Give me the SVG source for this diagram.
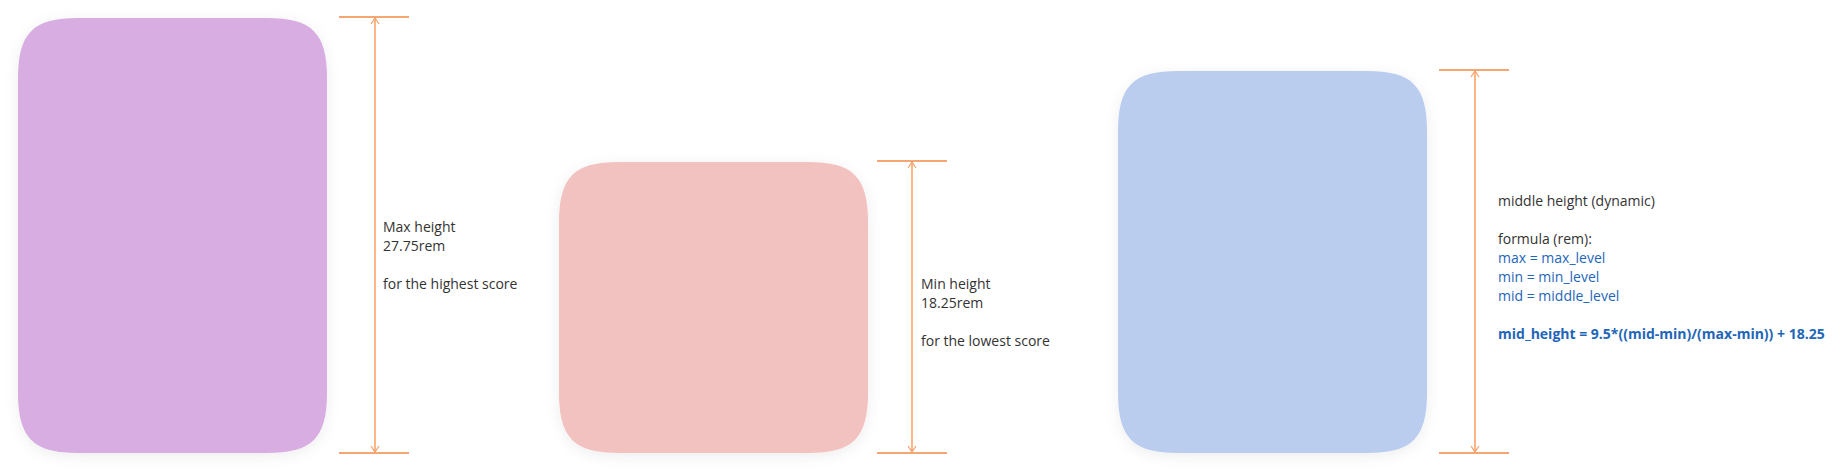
<svg xmlns="http://www.w3.org/2000/svg" width="1842" height="476" viewBox="0 0 1842 476">
<style>
.lbl{font-family:"Open Sans","Liberation Sans",sans-serif;font-size:14px;fill:#333333}
.blue{fill:#1f66b8}
.bold{font-weight:700}
.tick{stroke:#f28a45;stroke-width:1.5}
.dim{stroke:#ffb584;stroke-width:2;fill:none}
</style>
<defs>
<filter id="sh" x="-20%" y="-20%" width="140%" height="140%">
<feDropShadow dx="0" dy="3" stdDeviation="7" flood-color="#000" flood-opacity="0.07"/>
</filter>
<marker id="ah" viewBox="0 0 10 10" refX="9" refY="5" markerWidth="10" markerHeight="10" markerUnits="userSpaceOnUse" orient="auto-start-reverse">
<path d="M3,1 L9,5 L3,9" fill="none" stroke="#f5a06c" stroke-width="1.2"/>
</marker>
</defs>
<g id="box-max">
<path filter="url(#sh)" fill="#d8aee2" d="M78,18 H267 C312,18 327,33 327,78 V393 C327,438 312,453 267,453 H78 C33,453 18,438 18,393 V78 C18,33 33,18 78,18 Z"/>
</g>
<g id="box-min">
<path filter="url(#sh)" fill="#f2c2c0" d="M619,162 H808 C853,162 868,177 868,222 V393 C868,438 853,453 808,453 H619 C574,453 559,438 559,393 V222 C559,177 574,162 619,162 Z"/>
</g>
<g id="box-mid">
<path filter="url(#sh)" fill="#bbcdef" d="M1178,71 H1367 C1412,71 1427,86 1427,131 V393 C1427,438 1412,453 1367,453 H1178 C1133,453 1118,438 1118,393 V131 C1118,86 1133,71 1178,71 Z"/>
</g>
<g id="connectors">
<line class="tick" x1="339" y1="17" x2="409" y2="17"/>
<line class="tick" x1="339" y1="453" x2="409" y2="453"/>
<line class="dim" x1="375" y1="18" x2="375" y2="452" marker-start="url(#ah)" marker-end="url(#ah)"/>
<line class="tick" x1="877" y1="161" x2="947" y2="161"/>
<line class="tick" x1="877" y1="453" x2="947" y2="453"/>
<line class="dim" x1="912" y1="162" x2="912" y2="452" marker-start="url(#ah)" marker-end="url(#ah)"/>
<line class="tick" x1="1439" y1="70" x2="1509" y2="70"/>
<line class="tick" x1="1439" y1="453" x2="1509" y2="453"/>
<line class="dim" x1="1475" y1="71" x2="1475" y2="452" marker-start="url(#ah)" marker-end="url(#ah)"/>
</g>
<g id="label-max">
<text class="lbl" x="383" y="232">Max height</text>
<text class="lbl" x="383" y="251">27.75rem</text>
<text class="lbl" x="383" y="289">for the highest score</text>
</g>
<g id="label-min">
<text class="lbl" x="921" y="289">Min height</text>
<text class="lbl" x="921" y="308">18.25rem</text>
<text class="lbl" x="921" y="346">for the lowest score</text>
</g>
<g id="label-mid">
<text class="lbl" x="1498" y="206">middle height (dynamic)</text>
<text class="lbl" x="1498" y="244">formula (rem):</text>
<text class="lbl blue" x="1498" y="263">max = max_level</text>
<text class="lbl blue" x="1498" y="282">min = min_level</text>
<text class="lbl blue" x="1498" y="301">mid = middle_level</text>
<text class="lbl blue bold" x="1498" y="339">mid_height = 9.5*((mid-min)/(max-min)) + 18.25</text>
</g>
</svg>
